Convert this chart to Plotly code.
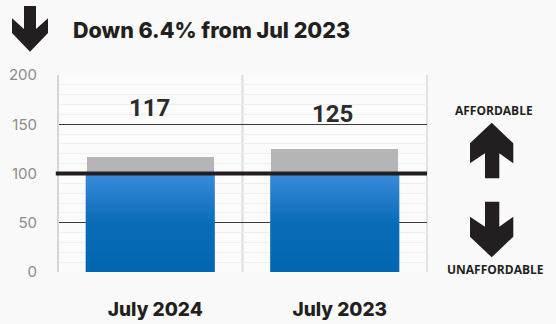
import plotly.graph_objects as go

# ---- data ----
categories = ["July 2024", "July 2023"]
values = [117, 125]
threshold = 100
title_text = "Down 6.4% from Jul 2023"
y_ticks = [0, 50, 100, 150, 200]

# ---- layout geometry (pixels) ----
W, H = 556, 324
L, R, T, B = 58, 427, 75, 272

def px(x):
    return (x - L) / (R - L)

def py(y):
    return (B - y) / (B - T)

def path(points):
    s = "M " + " L ".join(f"{px(x):.5f},{py(y):.5f}" for x, y in points) + " Z"
    return s

fig = go.Figure()

xs = list(range(len(categories)))
bw = 0.69

# blue part (0 .. threshold), gradient filled
for i, v in zip(xs, values):
    top = min(v, threshold)
    fig.add_trace(go.Scatter(
        x=[i - bw / 2 - 0.005, i + bw / 2 + 0.005, i + bw / 2 + 0.005, i - bw / 2 - 0.005, i - bw / 2 - 0.005],
        y=[0, 0, top, top, 0],
        mode="lines", line=dict(width=0), fill="toself",
        fillgradient=dict(type="vertical", start=0, stop=top,
                          colorscale=[[0, "#0066b0"], [0.5, "#0a6cb7"], [1, "#3a8cdb"]]),
        hoverinfo="skip", showlegend=False,
    ))

# gray part (threshold .. value)
fig.add_trace(go.Bar(
    x=xs, y=[max(v - threshold, 0) for v in values], base=[threshold] * len(values),
    width=bw, marker=dict(color="#b5b5b7", line=dict(width=0)),
    hoverinfo="skip", showlegend=False,
))

shapes = []
# left axis line, separator, right edge
shapes.append(dict(type="line", xref="paper", yref="paper", x0=0, x1=0, y0=0, y1=1,
                   line=dict(color="#d6d6d6", width=2), layer="above"))
shapes.append(dict(type="line", xref="x", yref="paper", x0=0.5, x1=0.5, y0=0, y1=1,
                   line=dict(color="#dddddd", width=2), layer="below"))
shapes.append(dict(type="line", xref="paper", yref="paper", x0=1, x1=1, y0=0, y1=1,
                   line=dict(color="#e2e2e2", width=2), layer="below"))
# threshold line
shapes.append(dict(type="line", xref="paper", yref="y", x0=-0.006, x1=1, y0=threshold, y1=threshold,
                   line=dict(color="#231f20", width=4), layer="above"))

arrow_col = "#231f20"
# title arrow (down)
shapes.append(dict(type="path", xref="paper", yref="paper", layer="above",
                   path=path([(24, 6), (36, 6), (36, 29), (48, 18.3), (48, 33), (30, 51.7),
                              (12, 33), (12, 18.3), (24, 29)]),
                   fillcolor=arrow_col, line=dict(width=0)))
# up arrow
up = [(491.7, 122.7), (513.3, 143.3), (513.3, 163.3), (499.3, 153.3), (499.3, 178.3),
      (485, 178.3), (485, 153.3), (470, 163.3), (470, 143.3)]
shapes.append(dict(type="path", xref="paper", yref="paper", layer="above",
                   path=path(up), fillcolor=arrow_col, line=dict(width=0)))
down = [(x, 380 - y) for x, y in up]
shapes.append(dict(type="path", xref="paper", yref="paper", layer="above",
                   path=path(down), fillcolor=arrow_col, line=dict(width=0)))

annotations = []
annotations.append(dict(text=title_text, xref="paper", yref="paper", x=px(71), y=py(30),
                        xanchor="left", yanchor="middle", showarrow=False,
                        font=dict(family="Inter", size=21.5, color="#231f20", weight=800)))
label_y = [108, 114]
label_x = [149, 332]
for v, lx, ly in zip(values, label_x, label_y):
    annotations.append(dict(text=str(v), xref="paper", yref="paper", x=px(lx), y=py(ly),
                            xanchor="center", yanchor="middle", showarrow=False,
                            font=dict(family="Roboto", size=24, color="#2b2b2b", weight="bold")))
annotations.append(dict(text="AFFORDABLE", xref="paper", yref="paper", x=px(493.5), y=py(110.5),
                        xanchor="center", yanchor="middle", showarrow=False,
                        font=dict(family="Open Sans", size=12, color="#231f20", weight="bold")))
annotations.append(dict(text="UNAFFORDABLE", xref="paper", yref="paper", x=px(495.5), y=py(269.5),
                        xanchor="center", yanchor="middle", showarrow=False,
                        font=dict(family="Open Sans", size=12, color="#231f20", weight="bold")))

fig.update_layout(
    width=W, height=H,
    margin=dict(l=L, r=W - R, t=T, b=H - B, pad=0),
    paper_bgcolor="#f9f9f9", plot_bgcolor="#fbfbfb",
    shapes=shapes, annotations=annotations,
    showlegend=False, bargap=0,
    xaxis=dict(range=[-0.5, 1.5], tickvals=xs, ticktext=categories, showgrid=False,
               zeroline=False, showline=False, ticks="", ticklabelstandoff=24,
               ticklabelshift=5, automargin=False,
               tickfont=dict(family="Inter", size=19, color="#231f20", weight=800),
               fixedrange=True),
    yaxis=dict(range=[0, 200], tickvals=y_ticks, showgrid=True, gridcolor="#3a3a3a", gridwidth=1.3,
               zeroline=False, showline=False, ticks="", ticklabelstandoff=20,
               automargin=False,
               tickfont=dict(family="Inter", size=15, color="#8c8c8c"),
               minor=dict(dtick=10, showgrid=True, gridcolor="#efefef", gridwidth=1),
               fixedrange=True),
)

fig.write_html("out.html")
